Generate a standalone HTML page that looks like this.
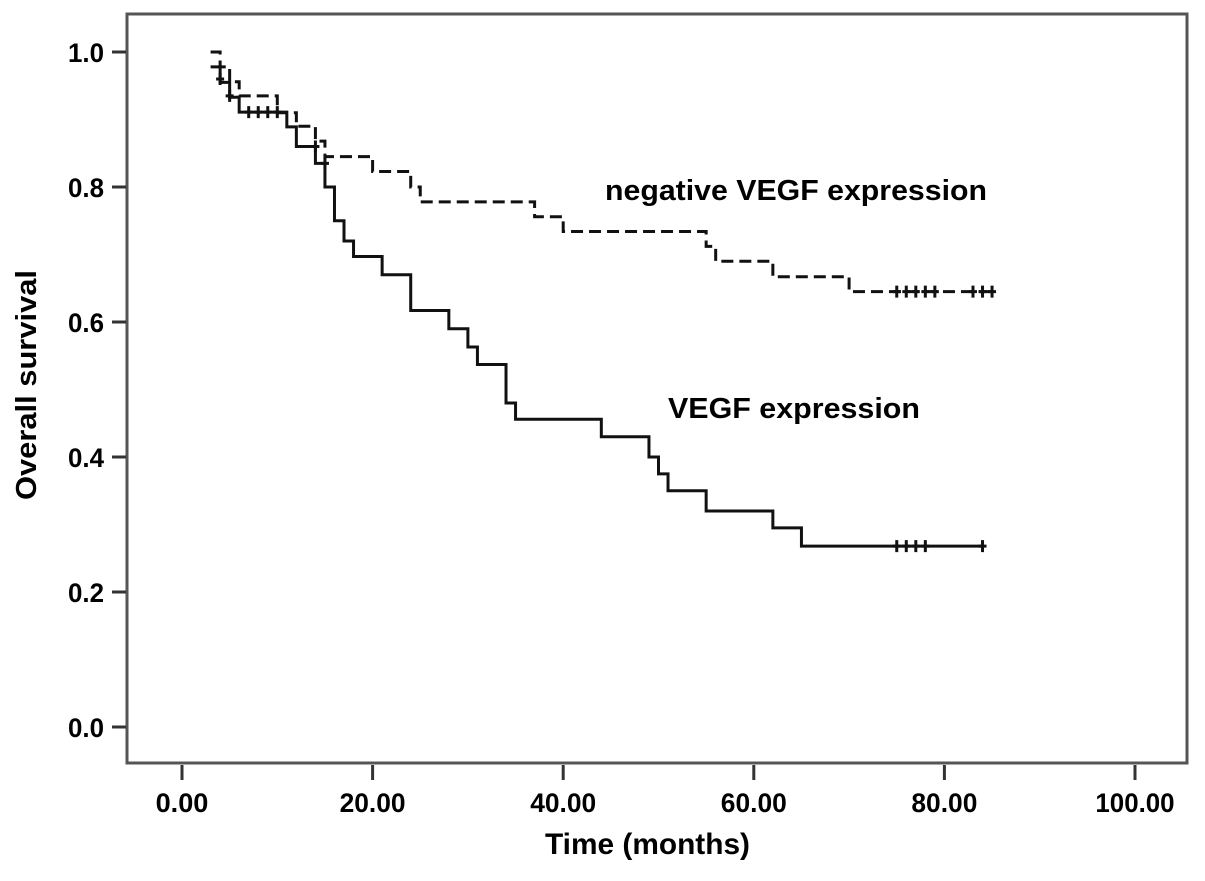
<!DOCTYPE html>
<html><head><meta charset="utf-8"><style>
body{margin:0;background:#fff;}
svg text{font-family:"Liberation Sans",sans-serif;font-weight:bold;fill:#000;}
</style></head><body>
<svg width="1205" height="876" id="chart">
<rect x="127" y="14" width="1060" height="749" fill="#fff" stroke="#555" stroke-width="3"/>
<g id="axes"></g>
<g id="series"></g>
<text x="605" y="200" font-size="29" textLength="382" lengthAdjust="spacingAndGlyphs">negative VEGF expression</text>
<text x="668" y="418" font-size="29" textLength="252" lengthAdjust="spacingAndGlyphs">VEGF expression</text>
<text x="545" y="854" font-size="30" textLength="205" lengthAdjust="spacingAndGlyphs">Time (months)</text>
<text transform="translate(36,500) rotate(-90)" font-size="29" textLength="230" lengthAdjust="spacingAndGlyphs">Overall survival</text>
</svg>
<script>
const xTicks=[0,20,40,60,80,100];
const xTickLabels=["0.00","20.00","40.00","60.00","80.00","100.00"];
const yTicks=[0,0.2,0.4,0.6,0.8,1.0];
const yTickLabels=["0.0","0.2","0.4","0.6","0.8","1.0"];
const vegfTimes=[3,4,5,6,11,12,14,15,16,17,18,21,24,28,30,31,34,35,44,49,50,51,55,62,65,84];
const vegfSurv=[0.978,0.955,0.933,0.911,0.889,0.86,0.835,0.80,0.75,0.72,0.697,0.67,0.617,0.59,0.563,0.537,0.48,0.456,0.43,0.40,0.375,0.35,0.32,0.295,0.268,0.268];
const vegfCensT=[4,5,7,8,9,10,14,15,75,76,77,78,84];
const vegfCensS=[0.96,0.935,0.911,0.911,0.911,0.911,0.86,0.835,0.268,0.268,0.268,0.268,0.268];
const negTimes=[3,4,5,6,10,12,14,15,20,24,25,37,40,55,56,62,70,85];
const negSurv=[1.0,0.978,0.956,0.935,0.91,0.89,0.868,0.845,0.823,0.80,0.778,0.756,0.734,0.712,0.69,0.667,0.645,0.645];
const negCensT=[75,76,77,78,79,83,84,85];
const negCensS=[0.645,0.645,0.645,0.645,0.645,0.645,0.645,0.645];
const NS="http://www.w3.org/2000/svg";
const X=t=>182+t*9.53, Y=s=>727-s*675;
function mk(tag,attrs,parent){const e=document.createElementNS(NS,tag);for(const k in attrs)e.setAttribute(k,attrs[k]);parent.appendChild(e);return e;}
const ax=document.getElementById('axes'), se=document.getElementById('series');
xTicks.forEach((t,i)=>{
 const l=mk('line',{x1:X(t),x2:X(t),y1:765,y2:780,stroke:'#333','stroke-width':3},ax);
 
 
 const w=xTickLabels[i].length*13.2;
 const tx=mk('text',{x:X(t),y:812,'font-size':27,'text-anchor':'middle',textLength:w,lengthAdjust:'spacingAndGlyphs'},ax);
 tx.textContent=xTickLabels[i];
 
 
});
yTicks.forEach((s,i)=>{
 const l=mk('line',{x1:112,x2:126,y1:Y(s),y2:Y(s),stroke:'#333','stroke-width':3},ax);
 
 
 const tx=mk('text',{x:104,y:Y(s)+10,'font-size':27,'text-anchor':'end',textLength:36,lengthAdjust:'spacingAndGlyphs'},ax);
 tx.textContent=yTickLabels[i];
 
 
});
function stepPath(T,S){let d='M'+X(T[0])+','+Y(S[0]);for(let i=1;i<T.length;i++){d+=' H'+X(T[i])+' V'+Y(S[i]);}return d;}
const p1=mk('path',{d:stepPath(vegfTimes,vegfSurv),fill:'none',stroke:'#111','stroke-width':3},se);


const p2=mk('path',{d:stepPath(negTimes,negSurv),fill:'none',stroke:'#111','stroke-width':3,'stroke-dasharray':'12 6'},se);


function cens(T,S,name){T.forEach((t,i)=>{const c=mk('path',{d:'M'+X(t)+','+(Y(S[i])-6)+' V'+(Y(S[i])+6)+' M'+(X(t)-4)+','+Y(S[i])+' H'+(X(t)+4),stroke:'#111','stroke-width':3,fill:'none'},se);
 
 });}
cens(vegfCensT,vegfCensS,'vegf-censor-mark');
cens(negCensT,negCensS,'negative-censor-mark');
</script>
</body></html>
